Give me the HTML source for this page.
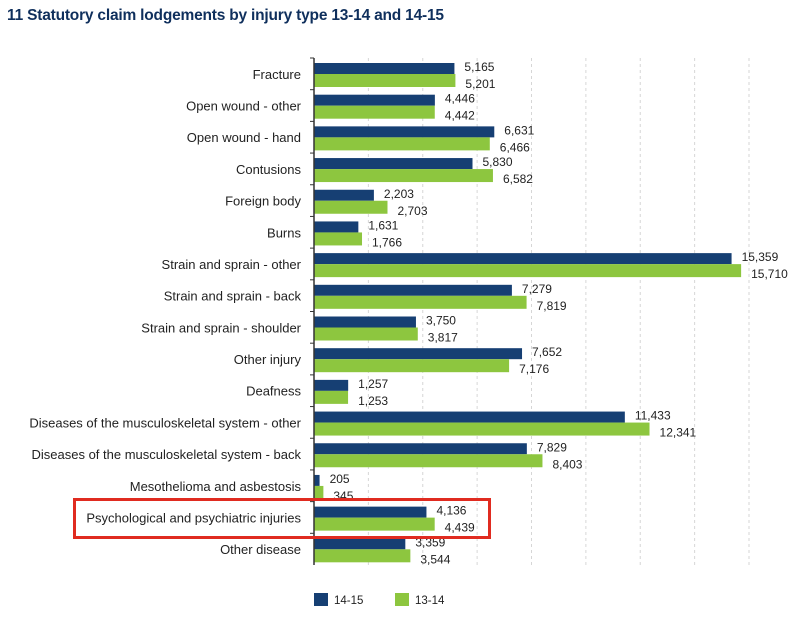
<!DOCTYPE html>
<html><head><meta charset="utf-8"><style>
body{margin:0;background:#fff;width:800px;height:617px;overflow:hidden;font-family:"Liberation Sans",sans-serif}
#title{position:absolute;left:7px;top:7px;font-size:15.5px;font-weight:bold;color:#0f2f5c;letter-spacing:-0.2px}
svg{position:absolute;left:0;top:0}
</style></head><body>
<div id="title">11 Statutory claim lodgements by injury type 13-14 and 14-15</div>
<svg id="chart" width="800" height="617"></svg>
<script>
const categories=["Fracture","Open wound - other","Open wound - hand","Contusions","Foreign body","Burns","Strain and sprain - other","Strain and sprain - back","Strain and sprain - shoulder","Other injury","Deafness","Diseases of the musculoskeletal system - other","Diseases of the musculoskeletal system - back","Mesothelioma and asbestosis","Psychological and psychiatric injuries","Other disease"];
const series1415=[5165,4446,6631,5830,2203,1631,15359,7279,3750,7652,1257,11433,7829,205,4136,3359];
const series1314=[5201,4442,6466,6582,2703,1766,15710,7819,3817,7176,1253,12341,8403,345,4439,3544];
const gridTicks=[2000,4000,6000,8000,10000,12000,14000,16000];
const NS="http://www.w3.org/2000/svg";
const svg=document.getElementById('chart');
const x0=314,scale=435/16000,top0=58,rowH=(565-58)/categories.length;
const xs=v=>x0+v*scale;
function mk(tag,attrs){const e=document.createElementNS(NS,tag);for(const k in attrs)e.setAttribute(k,attrs[k]);svg.appendChild(e);return e;}
gridTicks.forEach(t=>{const g=mk('line',{x1:xs(t),x2:xs(t),y1:top0,y2:565,stroke:'#d6d6d6','stroke-dasharray':'3,3'});

});
const fmt=v=>v.toLocaleString('en-US');
categories.forEach((c,i)=>{
 const y=top0+i*rowH;
 const lab=mk('text',{x:301,y:y+rowH/2+5,'text-anchor':'end','font-size':'13',fill:'#222'});lab.textContent=c;
 
 
 const b=mk('rect',{x:x0,y:y+5,width:xs(series1415[i])-x0,height:11,fill:'#163f73'});
 
 
 const g=mk('rect',{x:x0,y:y+16,width:xs(series1314[i])-x0,height:13,fill:'#8dc63f'});
 
 
 const t1=mk('text',{x:xs(series1415[i])+10,y:y+13,'font-size':'12',fill:'#222'});t1.textContent=fmt(series1415[i]);
 
 
 const t2=mk('text',{x:xs(series1314[i])+10,y:y+30,'font-size':'12',fill:'#222'});t2.textContent=fmt(series1314[i]);
 
 
 const tk=mk('line',{x1:x0-4,x2:x0,y1:y,y2:y,stroke:'#333'});
 
 
});
const ax=mk('line',{x1:x0,x2:x0,y1:top0,y2:565,stroke:'#333','stroke-width':1.5});


const hl=mk('rect',{x:74.5,y:499.5,width:415,height:38,fill:'none',stroke:'#e02b20','stroke-width':3});


const l1=mk('rect',{x:314,y:593,width:14,height:13,fill:'#163f73'});


const lt1=mk('text',{x:334,y:604,'font-size':'11.5',fill:'#222'});lt1.textContent='14-15';


const l2=mk('rect',{x:395,y:593,width:14,height:13,fill:'#8dc63f'});


const lt2=mk('text',{x:415,y:604,'font-size':'11.5',fill:'#222'});lt2.textContent='13-14';


</script>
</body></html>
